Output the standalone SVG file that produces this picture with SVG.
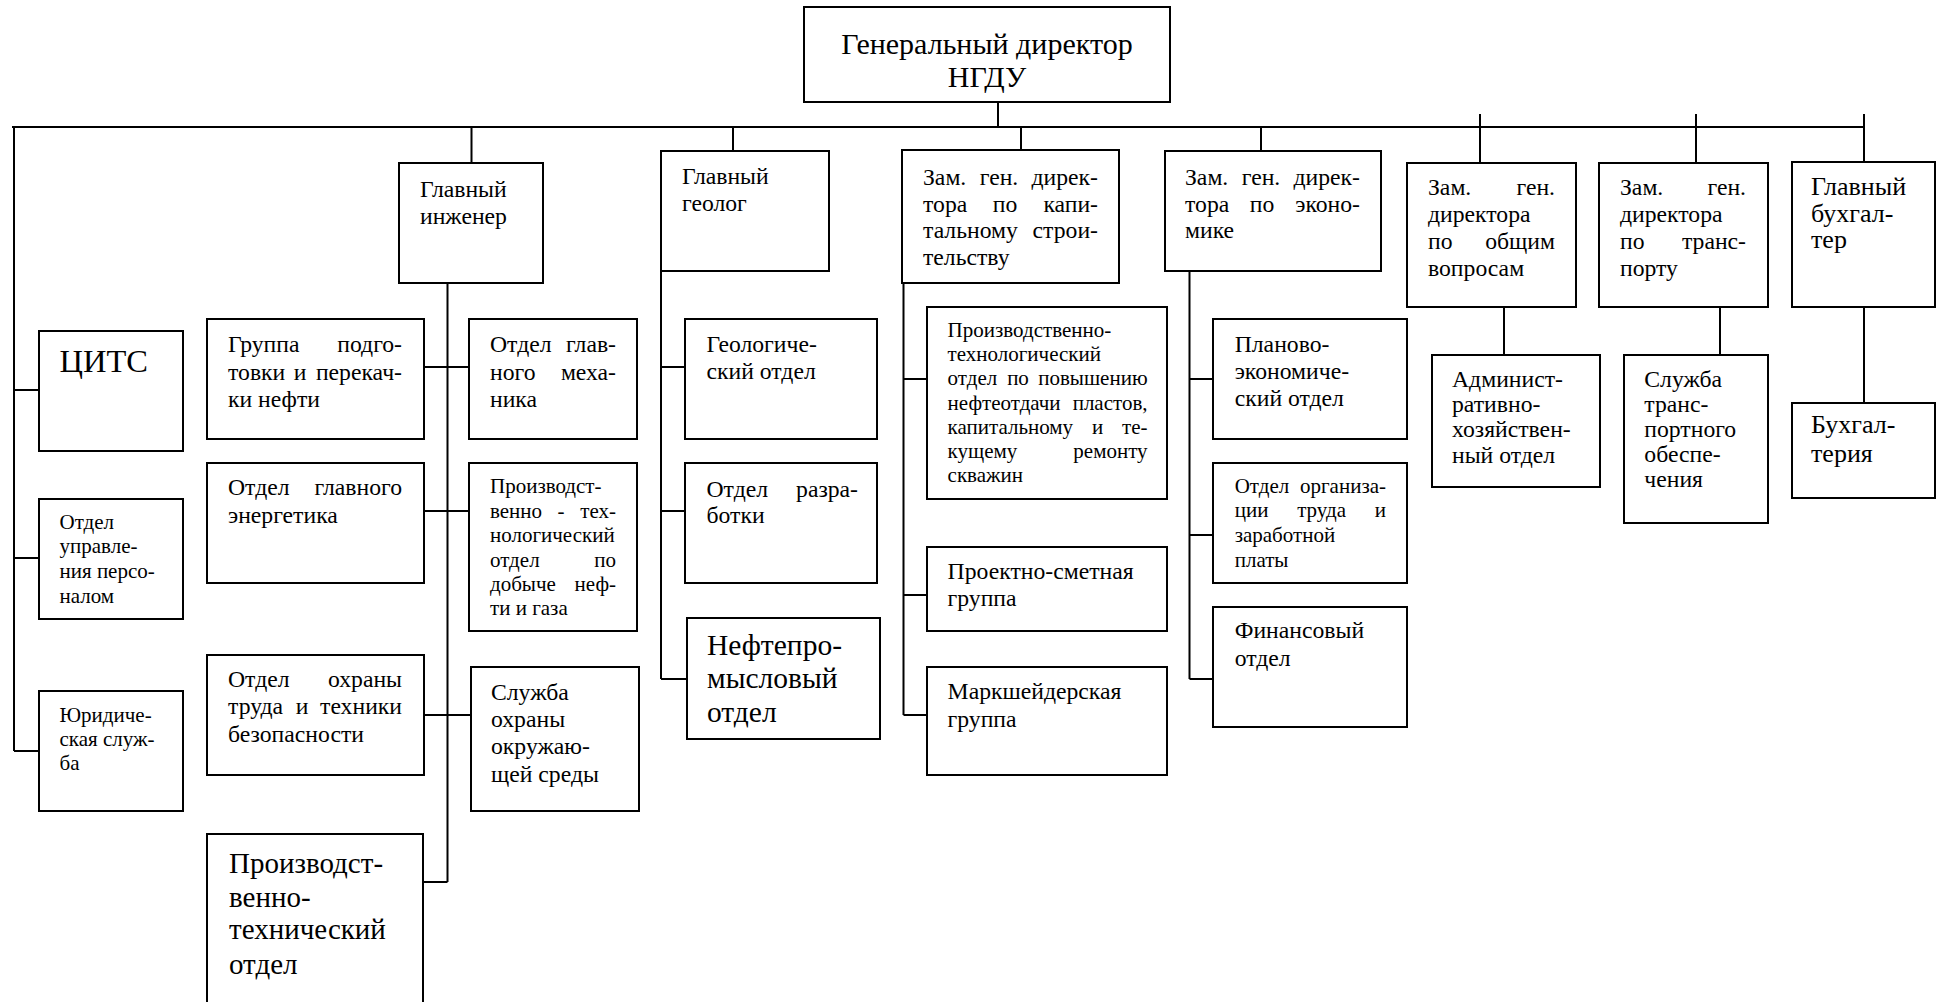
<svg xmlns="http://www.w3.org/2000/svg" width="1937" height="1002" viewBox="0 0 1937 1002" font-family="'Liberation Serif','DejaVu Serif','Noto Serif',serif">
<style>
.b{fill:#fff;stroke:#000;stroke-width:2}
.c{fill:none;stroke:#000;stroke-width:2}
text{font-family:'Liberation Serif','DejaVu Serif','Noto Serif',serif;fill:#000}
.S{font-size:23.7px}
.s{font-size:21px}
.L{font-size:29px}
.e{text-anchor:end}
.m{text-anchor:middle}
</style>
<rect width="1937" height="1002" fill="#fff"/>
<g id="connectors" class="c">
<path d="M998 102V127M12 127H1864M14 127V751M14 390H39M14 558H39M14 751H39"/>
<path d="M471.5 127V163M447.5 283V882M424 367H469M424 511H469M424 715H471M424 882H447.5"/>
<path d="M733 127V151M661 271V679M661 367H685M661 511H685M661 679H687"/>
<path d="M1021 127V150M903.5 283V715M903.5 379H927M903.5 595H927M903.5 715H927"/>
<path d="M1261 127V151M1189.5 271V679M1189.5 379H1213M1189.5 535H1213M1189.5 679H1213"/>
<path d="M1480 114V163M1696 114V163M1864 114V162M1504 307V355M1720 307V355M1864 307V403"/>
</g>
<g id="gen_director"><rect class="b" x="804" y="7" width="366" height="95"/>
<text class="m" style="font-size:30px" x="987" y="54">Генеральный директор</text>
<text class="m" style="font-size:30px" x="987" y="87">НГДУ</text></g>
<g id="glavnyi_inzhener"><rect class="b" x="399" y="163" width="144" height="120"/>
<text class="S" x="420" y="197">Главный</text><text class="S" x="420" y="224">инженер</text></g>
<g id="glavnyi_geolog"><rect class="b" x="661" y="151" width="168" height="120"/>
<text class="S" x="682" y="184">Главный</text><text class="S" x="682" y="211">геолог</text></g>
<g id="zam_kap"><rect class="b" x="902" y="150" width="217" height="133"/>
<text class="S" x="923" y="185">Зам.</text><text class="S m" x="999" y="185">ген.</text><text class="S e" x="1098" y="185">дирек-</text>
<text class="S" x="923" y="211.5">тора</text><text class="S m" x="1005" y="211.5">по</text><text class="S e" x="1098" y="211.5">капи-</text>
<text class="S" x="923" y="238">тальному</text><text class="S e" x="1098" y="238">строи-</text>
<text class="S" x="923" y="264.5">тельству</text></g>
<g id="zam_econ"><rect class="b" x="1165" y="151" width="216" height="120"/>
<text class="S" x="1185" y="185">Зам.</text><text class="S m" x="1261" y="185">ген.</text><text class="S e" x="1360" y="185">дирек-</text>
<text class="S" x="1185" y="211.5">тора</text><text class="S m" x="1262" y="211.5">по</text><text class="S e" x="1360" y="211.5">эконо-</text>
<text class="S" x="1185" y="238">мике</text></g>
<g id="zam_obsh"><rect class="b" x="1407" y="163" width="169" height="144"/>
<text class="S" x="1428" y="195">Зам.</text><text class="S e" x="1555" y="195">ген.</text>
<text class="S" x="1428" y="221.7">директора</text>
<text class="S" x="1428" y="249.3">по</text><text class="S e" x="1555" y="249.3">общим</text>
<text class="S" x="1428" y="276">вопросам</text></g>
<g id="zam_trans"><rect class="b" x="1599" y="163" width="169" height="144"/>
<text class="S" x="1620" y="195">Зам.</text><text class="S e" x="1746" y="195">ген.</text>
<text class="S" x="1620" y="221.7">директора</text>
<text class="S" x="1620" y="249.3">по</text><text class="S e" x="1746" y="249.3">транс-</text>
<text class="S" x="1620" y="276">порту</text></g>
<g id="glavnyi_buh"><rect class="b" x="1792" y="162" width="143" height="145"/>
<text style="font-size:26px" x="1811" y="195">Главный</text><text style="font-size:26px" x="1811" y="221.7">бухгал-</text><text style="font-size:26px" x="1811" y="248">тер</text></g>
<g id="cits"><rect class="b" x="39" y="331" width="144" height="120"/>
<text style="font-size:32.5px" x="59.5" y="371.7">ЦИТС</text></g>
<g id="otdel_personal"><rect class="b" x="39" y="499" width="144" height="120"/>
<text class="s" x="59.5" y="529">Отдел</text><text class="s" x="59.5" y="553">управле-</text><text class="s" x="59.5" y="578">ния персо-</text><text class="s" x="59.5" y="602.5">налом</text></g>
<g id="yur"><rect class="b" x="39" y="691" width="144" height="120"/>
<text class="s" x="59.5" y="721.7">Юридиче-</text><text class="s" x="59.5" y="746">ская служ-</text><text class="s" x="59.5" y="770">ба</text></g>
<g id="gruppa_podgotovki"><rect class="b" x="207" y="319" width="217" height="120"/>
<text class="S" x="228" y="352.3">Группа</text><text class="S e" x="402" y="352.3">подго-</text>
<text class="S" x="228" y="380">товки</text><text class="S m" x="300" y="380">и</text><text class="S e" x="402" y="380">перекач-</text>
<text class="S" x="228" y="406.7">ки нефти</text></g>
<g id="otdel_mehanika"><rect class="b" x="469" y="319" width="168" height="120"/>
<text class="S" x="490" y="352.3">Отдел</text><text class="S e" x="616" y="352.3">глав-</text>
<text class="S" x="490" y="380">ного</text><text class="S e" x="616" y="380">меха-</text>
<text class="S" x="490" y="406.7">ника</text></g>
<g id="otdel_energetika"><rect class="b" x="207" y="463" width="217" height="120"/>
<text class="S" x="228" y="495">Отдел</text><text class="S e" x="402" y="495">главного</text>
<text class="S" x="228" y="522.7">энергетика</text></g>
<g id="pto_dobycha"><rect class="b" x="469" y="463" width="168" height="168"/>
<text class="s" x="490" y="492.7">Производст-</text>
<text class="s" x="490" y="517.5">венно</text><text class="s m" x="561" y="517.5">-</text><text class="s e" x="616" y="517.5">тех-</text>
<text class="s" x="490" y="542">нологический</text>
<text class="s" x="490" y="566.7">отдел</text><text class="s e" x="616" y="566.7">по</text>
<text class="s" x="490" y="591">добыче</text><text class="s e" x="616" y="591">неф-</text>
<text class="s" x="490" y="615">ти и газа</text></g>
<g id="otdel_ohrany_truda"><rect class="b" x="207" y="655" width="217" height="120"/>
<text class="S" x="228" y="686.7">Отдел</text><text class="S e" x="402" y="686.7">охраны</text>
<text class="S" x="228" y="714.3">труда</text><text class="S m" x="302" y="714.3">и</text><text class="S e" x="402" y="714.3">техники</text>
<text class="S" x="228" y="741.7">безопасности</text></g>
<g id="sluzhba_okr_sredy"><rect class="b" x="471" y="667" width="168" height="144"/>
<text class="S" x="491" y="700">Служба</text><text class="S" x="491" y="726.7">охраны</text><text class="S" x="491" y="754">окружаю-</text><text class="S" x="491" y="781.7">щей среды</text></g>
<g id="pto_tehnicheskiy"><rect class="b" x="207" y="834" width="216" height="180"/>
<text class="L" x="229" y="872.7">Производст-</text><text class="L" x="229" y="906.7">венно-</text><text class="L" x="229" y="939.3">технический</text><text class="L" x="229" y="974">отдел</text></g>
<g id="geolog_otdel"><rect class="b" x="685" y="319" width="192" height="120"/>
<text class="S" x="706.5" y="351.7">Геологиче-</text><text class="S" x="706.5" y="379.3">ский отдел</text></g>
<g id="otdel_razrabotki"><rect class="b" x="685" y="463" width="192" height="120"/>
<text class="S" x="706.5" y="496.7">Отдел</text><text class="S e" x="858" y="496.7">разра-</text>
<text class="S" x="706.5" y="523.3">ботки</text></g>
<g id="neftepromysl"><rect class="b" x="687" y="618" width="193" height="121"/>
<text style="font-size:29.5px" x="707" y="655">Нефтепро-</text><text style="font-size:29.5px" x="707" y="688.3">мысловый</text><text style="font-size:29.5px" x="707" y="722">отдел</text></g>
<g id="pto_nefteotdacha"><rect class="b" x="927" y="307" width="240" height="192"/>
<text class="s" x="947.6" y="337">Производственно-</text>
<text class="s" x="947.6" y="361.2">технологический</text>
<text class="s" x="947.6" y="385.4">отдел</text><text class="s m" x="1018" y="385.4">по</text><text class="s e" x="1147.6" y="385.4">повышению</text>
<text class="s" x="947.6" y="409.6">нефтеотдачи</text><text class="s e" x="1147.6" y="409.6">пластов,</text>
<text class="s" x="947.6" y="433.8">капитальному</text><text class="s m" x="1097.7" y="433.8">и</text><text class="s e" x="1147.6" y="433.8">те-</text>
<text class="s" x="947.6" y="458">кущему</text><text class="s e" x="1147.6" y="458">ремонту</text>
<text class="s" x="947.6" y="482.2">скважин</text></g>
<g id="proektno_smetnaya"><rect class="b" x="927" y="547" width="240" height="84"/>
<text class="S" x="947.6" y="579.3">Проектно-сметная</text><text class="S" x="947.6" y="606">группа</text></g>
<g id="marksheyderskaya"><rect class="b" x="927" y="667" width="240" height="108"/>
<text class="S" x="947.6" y="699.3">Маркшейдерская</text><text class="S" x="947.6" y="726.7">группа</text></g>
<g id="planovo_econ"><rect class="b" x="1213" y="319" width="194" height="120"/>
<text class="S" x="1234.7" y="351.7">Планово-</text><text class="S" x="1234.7" y="379.3">экономиче-</text><text class="S" x="1234.7" y="406">ский отдел</text></g>
<g id="otdel_org_truda"><rect class="b" x="1213" y="463" width="194" height="120"/>
<text class="s" x="1234.7" y="492.7">Отдел</text><text class="s e" x="1386" y="492.7">организа-</text>
<text class="s" x="1234.7" y="517.3">ции</text><text class="s m" x="1321.6" y="517.3">труда</text><text class="s e" x="1386" y="517.3">и</text>
<text class="s" x="1234.7" y="541.7">заработной</text>
<text class="s" x="1234.7" y="566.7">платы</text></g>
<g id="finansovyi"><rect class="b" x="1213" y="607" width="194" height="120"/>
<text class="S" x="1234.7" y="638.3">Финансовый</text><text class="S" x="1234.7" y="666">отдел</text></g>
<g id="adm_hoz"><rect class="b" x="1432" y="355" width="168" height="132"/>
<text class="S" x="1452" y="387.3">Админист-</text><text class="S" x="1452" y="412">ративно-</text><text class="S" x="1452" y="437">хозяйствен-</text><text class="S" x="1452" y="462.5">ный отдел</text></g>
<g id="sluzhba_transporta"><rect class="b" x="1624" y="355" width="144" height="168"/>
<text class="S" x="1644.3" y="387.3">Служба</text><text class="S" x="1644.3" y="412.3">транс-</text><text class="S" x="1644.3" y="436.7">портного</text><text class="S" x="1644.3" y="461.7">обеспе-</text><text class="S" x="1644.3" y="486.7">чения</text></g>
<g id="buhgalteriya"><rect class="b" x="1792" y="403" width="143" height="95"/>
<text style="font-size:26px" x="1811" y="433">Бухгал-</text><text style="font-size:26px" x="1811" y="461.7">терия</text></g>
</svg>
